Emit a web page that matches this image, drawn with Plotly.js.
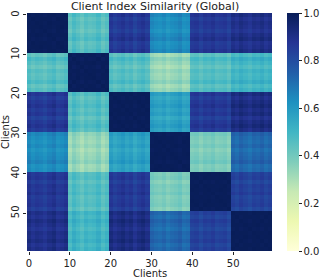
<!DOCTYPE html>
<html><head><meta charset="utf-8">
<script src="https://cdn.plot.ly/plotly-3.0.1.min.js"></script>
<style>html,body{margin:0;padding:0;background:#fff}</style>
</head><body>
<div id="chart" style="width:332px;height:278px"></div>
<script>
// Block-level similarity between the six client groups (10 clients each)
var groupSize = 10;
var blockSimilarity = [
  [1.00, 0.45, 0.86, 0.63, 0.86, 0.89],
  [0.45, 1.00, 0.46, 0.33, 0.46, 0.50],
  [0.86, 0.46, 1.00, 0.57, 0.86, 0.91],
  [0.63, 0.33, 0.57, 1.00, 0.38, 0.72],
  [0.86, 0.46, 0.86, 0.38, 1.00, 0.83],
  [0.89, 0.50, 0.91, 0.72, 0.83, 1.00]
];
// Per-client variation read from the row/column stripes
var clientOffset = [
  0.02,-0.01,0.01,0.00,-0.02,0.01,0.03,-0.01,0.00,0.02,
  -0.02,0.03,0.00,-0.03,0.01,-0.01,0.00,0.03,-0.02,0.01,
  0.01,-0.02,0.00,0.02,-0.01,0.01,-0.03,0.00,0.02,-0.01,
  0.02,0.00,-0.01,0.01,-0.02,0.00,0.01,0.03,-0.01,0.00,
  0.00,0.01,-0.02,0.01,0.00,0.02,-0.01,0.00,0.01,-0.02,
  0.01,-0.01,0.02,0.00,-0.02,0.01,0.00,0.02,-0.01,0.01
];
var clients = [];
for (var i = 0; i < 60; i++) clients.push(i);
var tickVals = [0, 10, 20, 30, 40, 50];
var tickText = ['0', '10', '20', '30', '40', '50'];
var cbTicks = [0, 0.2, 0.4, 0.6, 0.8, 1.0];

var z = clients.map(function (r) {
  return clients.map(function (c) {
    var br = Math.floor(r / groupSize), bc = Math.floor(c / groupSize);
    var b = blockSimilarity[br][bc];
    var v = (br === bc) ? b - 0.3 * Math.abs(clientOffset[r] - clientOffset[c]) : b + clientOffset[r] + clientOffset[c];
    return Math.max(0, Math.min(1, v));
  });
});

var ylgnbu = [
  [0, '#ffffd9'], [0.125, '#edf8b1'], [0.25, '#c7e9b4'], [0.375, '#7fcdbb'],
  [0.5, '#41b6c4'], [0.625, '#1d91c0'], [0.75, '#225ea8'], [0.875, '#253494'], [1, '#081d58']
];

var trace = {
  type: 'heatmap', x: clients, y: clients, z: z,
  zmin: 0, zmax: 1, colorscale: ylgnbu,
  colorbar: {
    x: 1.0625, xanchor: 'left', xref: 'paper', y: 0.5, yanchor: 'middle', len: 1, lenmode: 'fraction',
    thickness: 12, outlinewidth: 0, ticks: 'outside', ticklen: 3, tickwidth: 1, tickcolor: '#222',
    tickvals: cbTicks, ticktext: cbTicks.map(function (v) { return v.toFixed(1); }),
    tickfont: {size: 10, color: '#222'}, xpad: 0, ypad: 0
  },
  hoverinfo: 'skip'
};

var layout = {
  width: 332, height: 278,
  margin: {l: 27, r: 49, t: 13, b: 27},
  paper_bgcolor: '#fff', plot_bgcolor: '#fff',
  font: {family: 'DejaVu Sans', color: '#222'},
  title: {text: 'Client Index Similarity (Global)', font: {size: 11, color: '#222'},
          x: 0.467, xanchor: 'center', y: 0.978, yanchor: 'middle', yref: 'container'},
  xaxis: {range: [-0.5, 59.5], tickvals: tickVals, ticktext: tickText, ticks: 'outside', ticklen: 3,
          tickcolor: '#222', tickfont: {size: 10}, showgrid: false, zeroline: false, showline: false},
  yaxis: {range: [59.5, -0.5], tickvals: tickVals, ticktext: tickText, ticks: 'outside', ticklen: 3.5,
          tickcolor: '#222', tickfont: {size: 10}, tickangle: -90, showgrid: false, zeroline: false, showline: false,
          title: {text: 'Clients', font: {size: 10}, standoff: 3}},
  annotations: [{text: 'Clients', xref: 'paper', yref: 'paper', x: 0.5, y: -0.094, xanchor: 'center', yanchor: 'middle',
                 showarrow: false, font: {size: 10, color: '#222'}}]
};

Plotly.newPlot('chart', [trace], layout, {displayModeBar: false, staticPlot: true});
</script>
</body></html>
